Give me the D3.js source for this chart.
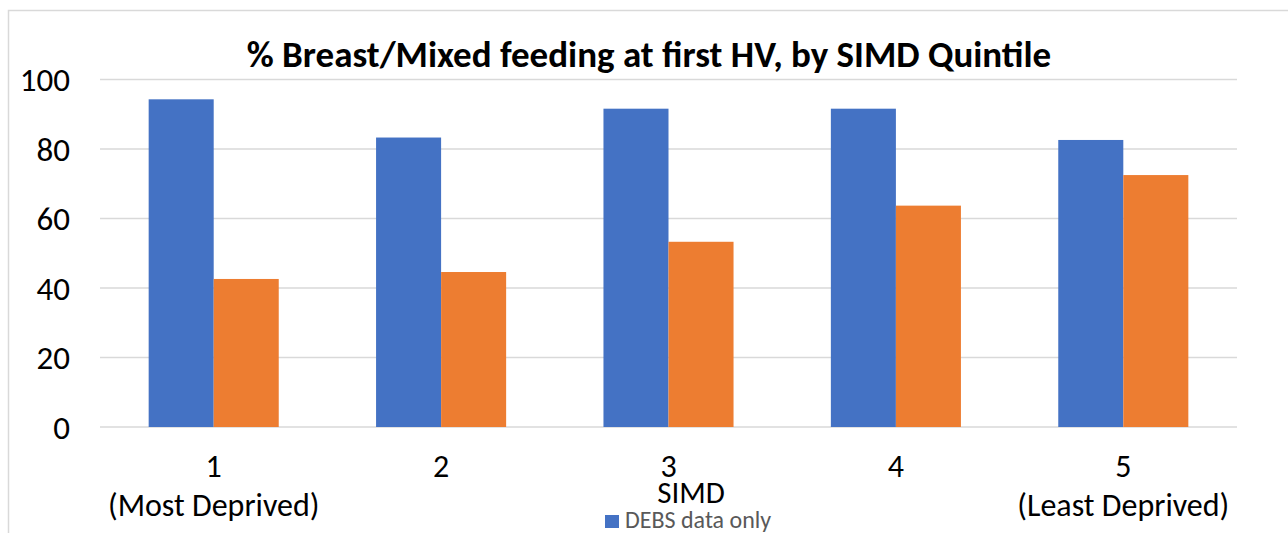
<!DOCTYPE html>
<html>
<head>
<meta charset="utf-8">
<script src="https://cdn.jsdelivr.net/npm/d3@7/dist/d3.min.js"></script>
<style>
  html, body { margin: 0; padding: 0; background: #fff; }
  svg { display: block; font-family: Carlito, Calibri, "Liberation Sans", Arial, sans-serif; }
</style>
</head>
<body>
<svg id="chart" width="1288" height="533"></svg>
<script>
// SIMD quintiles
const categories = ['1', '2', '3', '4', '5'];
const subLabels = ['(Most Deprived)', '', '', '', '(Least Deprived)'];
const seriesNames = ['DEBS data only', 'Other'];
const debsValues = [94.3, 83.3, 91.6, 91.6, 82.6];
const otherValues = [42.6, 44.6, 53.3, 63.7, 72.5];
const yTicks = [0, 20, 40, 60, 80, 100];
const colors = ['#4472c4', '#ed7d31'];

const svg = d3.select('#chart');
const W = 1288, H = 533;
const plot = { left: 100, right: 1237, top: 79.5, bottom: 427 };

// chart border (only top/left visible in the crop)
svg.append('rect')
  .attr('x', 8.5).attr('y', 10.5)
  .attr('width', W + 20).attr('height', H + 20)
  .attr('fill', '#fff').attr('stroke', '#d9d9d9').attr('stroke-width', 1.5);

const x = d3.scaleBand().domain(categories)
  .range([plot.left, plot.right]).paddingInner(0.428).paddingOuter(0.214);
const x1 = d3.scaleBand().domain([0, 1]).range([0, x.bandwidth()]);
const y = d3.scaleLinear().domain([0, 100]).range([plot.bottom, plot.top]);

// gridlines
svg.append('g').selectAll('line').data(yTicks).join('line')
  .attr('x1', plot.left).attr('x2', plot.right)
  .attr('y1', d => y(d)).attr('y2', d => y(d))
  .attr('stroke', '#d9d9d9').attr('stroke-width', 1.5);

// y labels
svg.append('g').selectAll('text').data(yTicks).join('text')
  .attr('x', 70).attr('y', d => y(d))
  .attr('dy', '0.35em')
  .attr('text-anchor', 'end')
  .attr('font-size', 33)
  .attr('fill', '#000')
  .text(d => d);

// bars
const rows = categories.map((c, i) => ({ cat: c, vals: [debsValues[i], otherValues[i]] }));
const grp = svg.append('g').selectAll('g').data(rows).join('g')
  .attr('transform', d => `translate(${x(d.cat)},0)`);
grp.selectAll('rect').data(d => d.vals.map((v, k) => ({ v, k }))).join('rect')
  .attr('x', d => x1(d.k))
  .attr('width', x1.bandwidth())
  .attr('y', d => y(d.v))
  .attr('height', d => y(0) - y(d.v))
  .attr('fill', d => colors[d.k]);

// x labels
const xl = svg.append('g').selectAll('text').data(categories).join('text')
  .attr('text-anchor', 'middle')
  .attr('font-size', 32)
  .attr('fill', '#000');
xl.append('tspan')
  .attr('x', d => x(d) + x.bandwidth() / 2).attr('y', 477)
  .text(d => d);
xl.append('tspan')
  .attr('x', d => x(d) + x.bandwidth() / 2).attr('y', 516)
  .text((d, i) => subLabels[i]);

// axis title
svg.append('text')
  .attr('x', 691).attr('y', 503)
  .attr('text-anchor', 'middle')
  .attr('font-size', 31)
  .text('SIMD');

// title
svg.append('text')
  .attr('x', 649).attr('y', 67)
  .attr('text-anchor', 'middle')
  .attr('font-size', 37)
  .attr('font-weight', 'bold')
  .text('% Breast/Mixed feeding at first HV, by SIMD Quintile');

// legend (second entry falls below the crop)
const lg = svg.append('g').attr('transform', 'translate(605,515)');
lg.append('rect').attr('width', 14).attr('height', 13).attr('fill', colors[0]);
lg.append('text')
  .attr('x', 20).attr('y', 13)
  .attr('font-size', 24)
  .attr('fill', '#595959')
  .text(seriesNames[0]);
</script>
</body>
</html>
